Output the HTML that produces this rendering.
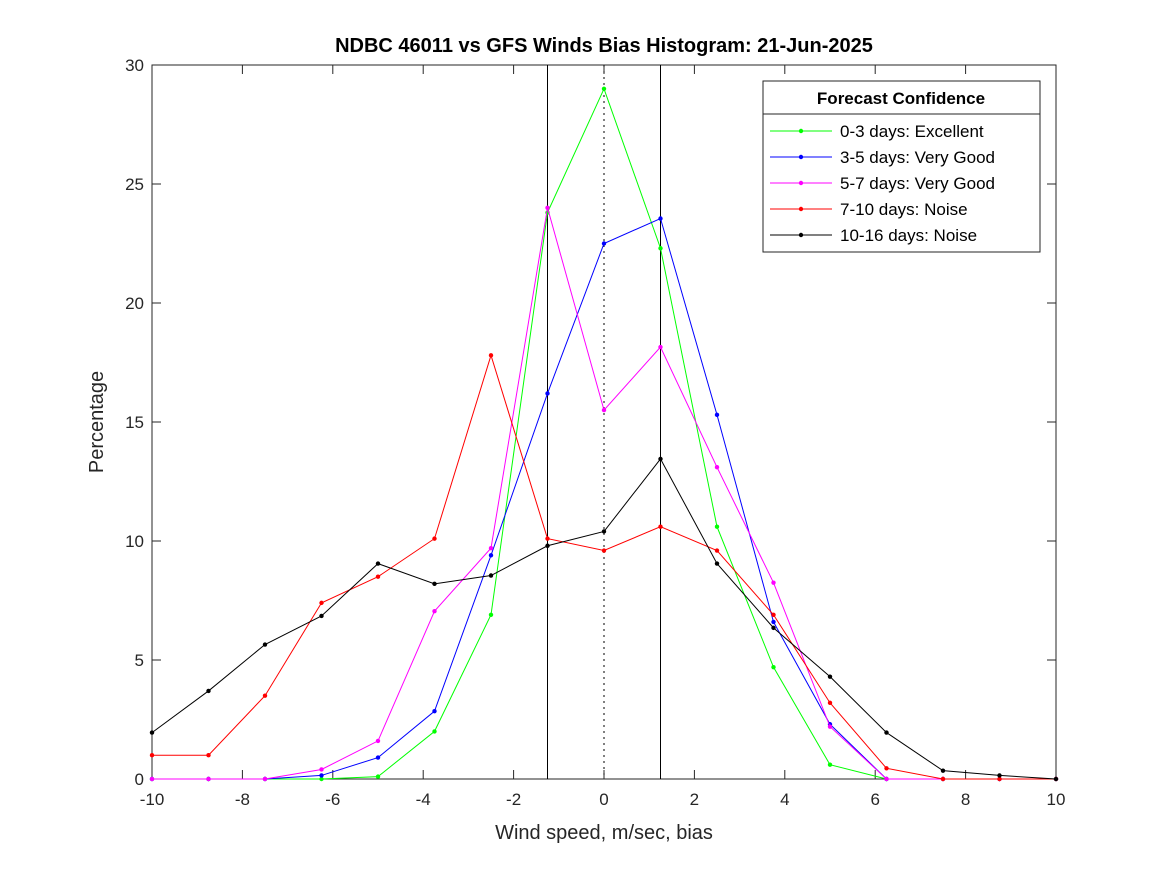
<!DOCTYPE html>
<html><head><meta charset="utf-8"><style>body{margin:0;background:#fff}svg{display:block;font-family:"Liberation Sans",sans-serif}</style></head>
<body>
<svg id="chart" width="1167" height="875" viewBox="0 0 1167 875" xmlns="http://www.w3.org/2000/svg">
<rect width="1167" height="875" fill="#fff"/>
<g id="plot"></g>
</svg>
<script>
const xValues=[-10,-8.75,-7.5,-6.25,-5,-3.75,-2.5,-1.25,0,1.25,2.5,3.75,5,6.25,7.5,8.75,10];
const green=[0,0,0,0,0.1,2.0,6.9,23.8,29,22.3,10.6,4.7,0.6,0,0,0,0];
const blue=[0,0,0,0.15,0.9,2.85,9.4,16.2,22.5,23.55,15.3,6.6,2.3,0,0,0,0];
const magenta=[0,0,0,0.4,1.6,7.05,9.7,24,15.5,18.15,13.1,8.25,2.2,0,0,0,0];
const red=[1.0,1.0,3.5,7.4,8.5,10.1,17.8,10.1,9.6,10.6,9.6,6.9,3.2,0.45,0,0,0];
const black=[1.95,3.7,5.65,6.85,9.05,8.2,8.55,9.8,10.4,13.45,9.05,6.35,4.3,1.95,0.35,0.15,0];
const seriesNames=["0-3 days: Excellent","3-5 days: Very Good","5-7 days: Very Good","7-10 days: Noise","10-16 days: Noise"];
const xTicks=[-10,-8,-6,-4,-2,0,2,4,6,8,10];
const yTicks=[0,5,10,15,20,25,30];
const L=152,R=1056,T=65,B=779;
const X=v=>L+(v+10)/20*(R-L);
const Y=v=>B-v/30*(B-T);
const NS="http://www.w3.org/2000/svg";
const g=document.getElementById('plot');
function mk(t,a,p){const e=document.createElementNS(NS,t);for(const k in a)e.setAttribute(k,a[k]);(p||g).appendChild(e);return e;}
let e=mk('rect',{x:L,y:T,width:R-L,height:B-T,fill:'#fff',stroke:'#262626','stroke-width':1});


xTicks.forEach(t=>{const x=X(t);
mk('line',{x1:x,x2:x,y1:B,y2:B-9,stroke:'#262626'});mk('line',{x1:x,x2:x,y1:T,y2:T+9,stroke:'#262626'});
const tx=mk('text',{x:x,y:B+26,'text-anchor':'middle','font-size':17,fill:'#262626'});tx.textContent=t;

});
yTicks.forEach(t=>{const y=Y(t);
mk('line',{x1:L,x2:L+9,y1:y,y2:y,stroke:'#262626'});mk('line',{x1:R,x2:R-9,y1:y,y2:y,stroke:'#262626'});
const tx=mk('text',{x:L-8,y:y+6,'text-anchor':'end','font-size':17,fill:'#262626'});tx.textContent=t;

});
[-1.25,1.25].forEach(v=>{const l=mk('line',{x1:X(v),x2:X(v),y1:T,y2:B,stroke:'#000'});

});
e=mk('line',{x1:X(0),x2:X(0),y1:T,y2:B,stroke:'#000','stroke-dasharray':'2,4'});


const allSeries=[green,blue,magenta,red,black];
const colors=['#00ff00','#0000ff','#ff00ff','#ff0000','#000000'];
allSeries.forEach((s,i)=>{
const pl=mk('polyline',{points:s.map((v,j)=>X(xValues[j])+','+Y(v)).join(' '),fill:'none',stroke:colors[i],'stroke-width':1});


s.forEach((v,j)=>{const c=mk('circle',{cx:X(xValues[j]),cy:Y(v),r:2.2,fill:colors[i]});

});
});
// legend
const lg=mk('g',{});


mk('rect',{x:763,y:81,width:277,height:171,fill:'#fff',stroke:'#262626'},lg);
mk('line',{x1:763,x2:1040,y1:114,y2:114,stroke:'#262626'},lg);
let lt=mk('text',{x:901,y:104,'text-anchor':'middle','font-size':17,'font-weight':'bold',fill:'#000'},lg);lt.textContent='Forecast Confidence';


seriesNames.forEach((n,i)=>{const y=131+i*26;
mk('line',{x1:770,x2:832,y1:y,y2:y,stroke:colors[i]},lg);
mk('circle',{cx:801,cy:y,r:2.2,fill:colors[i]},lg);
const t=mk('text',{x:840,y:y+6,'font-size':17,fill:'#000'},lg);t.textContent=n;

});
let tt=mk('text',{x:604,y:52,'text-anchor':'middle','font-size':20,'font-weight':'bold',fill:'#000'});tt.textContent='NDBC 46011 vs GFS Winds Bias Histogram: 21-Jun-2025';


tt=mk('text',{x:604,y:839,'text-anchor':'middle','font-size':20,fill:'#262626'});tt.textContent='Wind speed, m/sec, bias';


tt=mk('text',{x:0,y:0,'text-anchor':'middle','font-size':20,fill:'#262626',transform:'translate(103,422) rotate(-90)'});tt.textContent='Percentage';


</script>
</body></html>
